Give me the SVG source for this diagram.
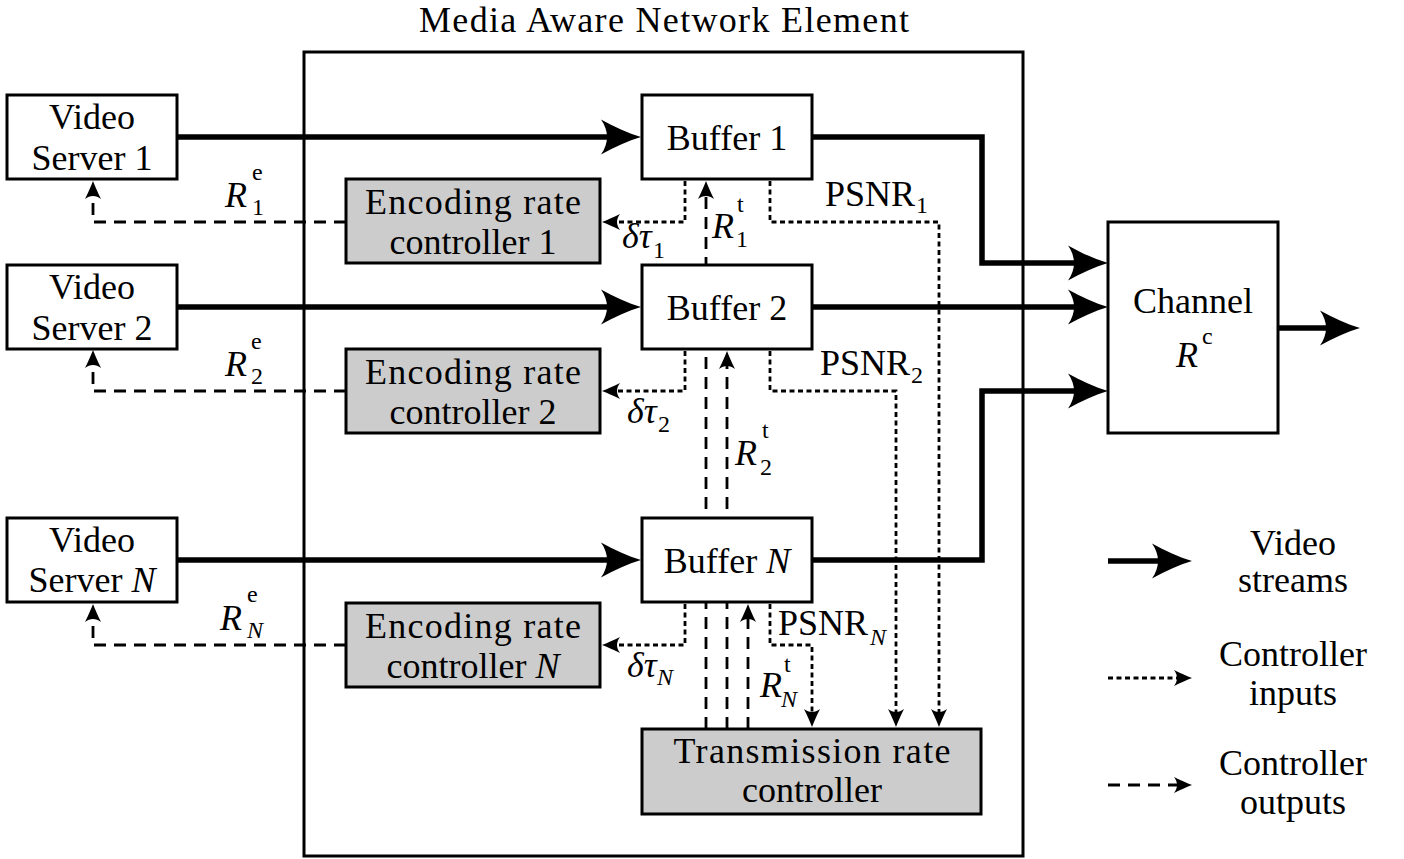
<svg xmlns="http://www.w3.org/2000/svg" width="1404" height="859" viewBox="0 0 1404 859" font-family="'Liberation Serif', 'DejaVu Serif', 'Noto Serif', serif">
<style>
.box{fill:#fff;stroke:#000;stroke-width:3}
.gray{fill:#cccccc;stroke:#000;stroke-width:3}
.frame{fill:none;stroke:#000;stroke-width:3}
.t{font-family:'Liberation Serif','DejaVu Serif','Noto Serif',serif;font-size:36px;fill:#000}
.c{text-anchor:middle}
.i{font-style:italic}
.s{font-size:24px}
.thick{fill:none;stroke:#000;stroke-width:5.5;stroke-linejoin:miter}
.dot{fill:none;stroke:#000;stroke-width:2.8;stroke-dasharray:5 3.5}
.dash{fill:none;stroke:#000;stroke-width:2.8;stroke-dasharray:12 8}
.head{fill:#000;stroke:none}
</style>
<defs>
<marker id="big" markerUnits="userSpaceOnUse" viewBox="-45 -20 50 40" markerWidth="50" markerHeight="40" refX="-18" refY="0" orient="auto" overflow="visible">
<path class="head" d="M0,0 C-13,-4 -27,-10 -40,-17.5 C-32,-6 -32,6 -40,17.5 C-27,10 -13,4 0,0Z"/>
</marker>
<marker id="sm" markerUnits="userSpaceOnUse" viewBox="-20 -10 24 20" markerWidth="24" markerHeight="20" refX="-6" refY="0" orient="auto" overflow="visible">
<path class="head" d="M0,0 C-5,-2 -11,-4.5 -18,-8 C-14,-3 -14,3 -18,8 C-11,4.5 -5,2 0,0Z"/>
</marker>
</defs>

<g id="mane">
<rect class="frame" x="304" y="52" width="719" height="804"/>
<text class="t c" x="664" y="32" textLength="490" lengthAdjust="spacing">Media Aware Network Element</text>
</g>

<g id="connectors">
<path class="thick" d="M177,137 H623" marker-end="url(#big)"/>
<path class="thick" d="M177,307 H623" marker-end="url(#big)"/>
<path class="thick" d="M177,560 H623" marker-end="url(#big)"/>
<path class="thick" d="M812,137 H982 V263 H1090" marker-end="url(#big)"/>
<path class="thick" d="M812,307 H1090" marker-end="url(#big)"/>
<path class="thick" d="M812,560 H982 V391 H1090" marker-end="url(#big)"/>
<path class="thick" d="M1278,328 H1342" marker-end="url(#big)"/>
<path class="dash" d="M346,222 H93 V187" marker-end="url(#sm)"/>
<path class="dash" d="M346,391 H93 V356" marker-end="url(#sm)"/>
<path class="dash" d="M346,645 H93 V610" marker-end="url(#sm)"/>
<path class="dash" d="M706,729 V187" marker-end="url(#sm)"/>
<path class="dash" d="M727,729 V357" marker-end="url(#sm)"/>
<path class="dash" d="M748,729 V610" marker-end="url(#sm)"/>
<path class="dot" d="M685,181 V222 H608" marker-end="url(#sm)"/>
<path class="dot" d="M770,181 V222 H939 V721" marker-end="url(#sm)"/>
<path class="dot" d="M685,351 V391 H608" marker-end="url(#sm)"/>
<path class="dot" d="M770,351 V391 H896 V721" marker-end="url(#sm)"/>
<path class="dot" d="M685,604 V645 H608" marker-end="url(#sm)"/>
<path class="dot" d="M770,604 V645 H812 V721" marker-end="url(#sm)"/>
<path class="thick" d="M1108,561 H1174" marker-end="url(#big)"/>
<path class="dot" d="M1108,678 H1186" marker-end="url(#sm)"/>
<path class="dash" d="M1108,785 H1186" marker-end="url(#sm)"/>
</g>

<g id="labels">
<text class="t i" x="225" y="207">R</text><text class="t s" x="252" y="180">e</text><text class="t s" x="252" y="215">1</text>
<text class="t i" x="225" y="376">R</text><text class="t s" x="251" y="349">e</text><text class="t s" x="251" y="384">2</text>
<text class="t i" x="220" y="630">R</text><text class="t s" x="247" y="602">e</text><text class="t s i" x="247" y="638">N</text>
<text class="t i" x="712" y="238">R</text><text class="t s" x="737" y="212">t</text><text class="t s" x="736" y="247">1</text>
<text class="t i" x="735" y="465">R</text><text class="t s" x="762" y="438">t</text><text class="t s" x="760" y="475">2</text>
<text class="t i" x="760" y="697">R</text><text class="t s" x="784" y="672">t</text><text class="t s i" x="781" y="707">N</text>
<text class="t i" x="622" y="248">δτ</text><text class="t s" x="653" y="258">1</text>
<text class="t i" x="627" y="423">δτ</text><text class="t s" x="658" y="432">2</text>
<text class="t i" x="627" y="677">δτ</text><text class="t s i" x="657" y="685">N</text>
<text class="t" x="825" y="206">PSNR</text><text class="t s" x="916" y="213">1</text>
<text class="t" x="820" y="375">PSNR</text><text class="t s" x="911" y="383">2</text>
<text class="t" x="778" y="635">PSNR</text><text class="t s i" x="870" y="645">N</text>
</g>

<g id="vs1">
<rect class="box" x="7" y="95" width="170" height="84"/>
<text class="t c" x="92" y="129">Video</text>
<text class="t c" x="92" y="170">Server 1</text>
</g>
<g id="vs2">
<rect class="box" x="7" y="265" width="170" height="84"/>
<text class="t c" x="92" y="299">Video</text>
<text class="t c" x="92" y="340">Server 2</text>
</g>
<g id="vsn">
<rect class="box" x="7" y="518" width="170" height="84"/>
<text class="t c" x="92" y="552">Video</text>
<text class="t c" x="92" y="592">Server <tspan class="i">N</tspan></text>
</g>
<g id="buf1">
<rect class="box" x="642" y="95" width="170" height="84"/>
<text class="t c" x="727" y="150">Buffer 1</text>
</g>
<g id="buf2">
<rect class="box" x="642" y="265" width="170" height="84"/>
<text class="t c" x="727" y="320">Buffer 2</text>
</g>
<g id="bufn">
<rect class="box" x="642" y="518" width="170" height="84"/>
<text class="t c" x="727" y="573">Buffer <tspan class="i">N</tspan></text>
</g>
<g id="erc1">
<rect class="gray" x="346" y="179" width="254" height="84"/>
<text class="t c" x="473" y="214" textLength="216" lengthAdjust="spacing">Encoding rate</text>
<text class="t c" x="473" y="254">controller 1</text>
</g>
<g id="erc2">
<rect class="gray" x="346" y="349" width="254" height="84"/>
<text class="t c" x="473" y="384" textLength="216" lengthAdjust="spacing">Encoding rate</text>
<text class="t c" x="473" y="424">controller 2</text>
</g>
<g id="ercn">
<rect class="gray" x="346" y="603" width="254" height="84"/>
<text class="t c" x="473" y="638" textLength="216" lengthAdjust="spacing">Encoding rate</text>
<text class="t c" x="473" y="678">controller <tspan class="i">N</tspan></text>
</g>
<g id="trc">
<rect class="gray" x="642" y="729" width="339" height="85"/>
<text class="t c" x="812" y="763" textLength="277" lengthAdjust="spacing">Transmission rate</text>
<text class="t c" x="812" y="802">controller</text>
</g>
<g id="channel">
<rect class="box" x="1108" y="222" width="170" height="211"/>
<text class="t c" x="1193" y="313">Channel</text>
<text class="t i" x="1176" y="367">R</text><text class="t s" x="1202" y="344">c</text>
</g>
<g id="legend">
<text class="t c" x="1293" y="555">Video</text>
<text class="t c" x="1293" y="592">streams</text>
<text class="t c" x="1293" y="666">Controller</text>
<text class="t c" x="1293" y="705">inputs</text>
<text class="t c" x="1293" y="775">Controller</text>
<text class="t c" x="1293" y="814">outputs</text>
</g>
</svg>
